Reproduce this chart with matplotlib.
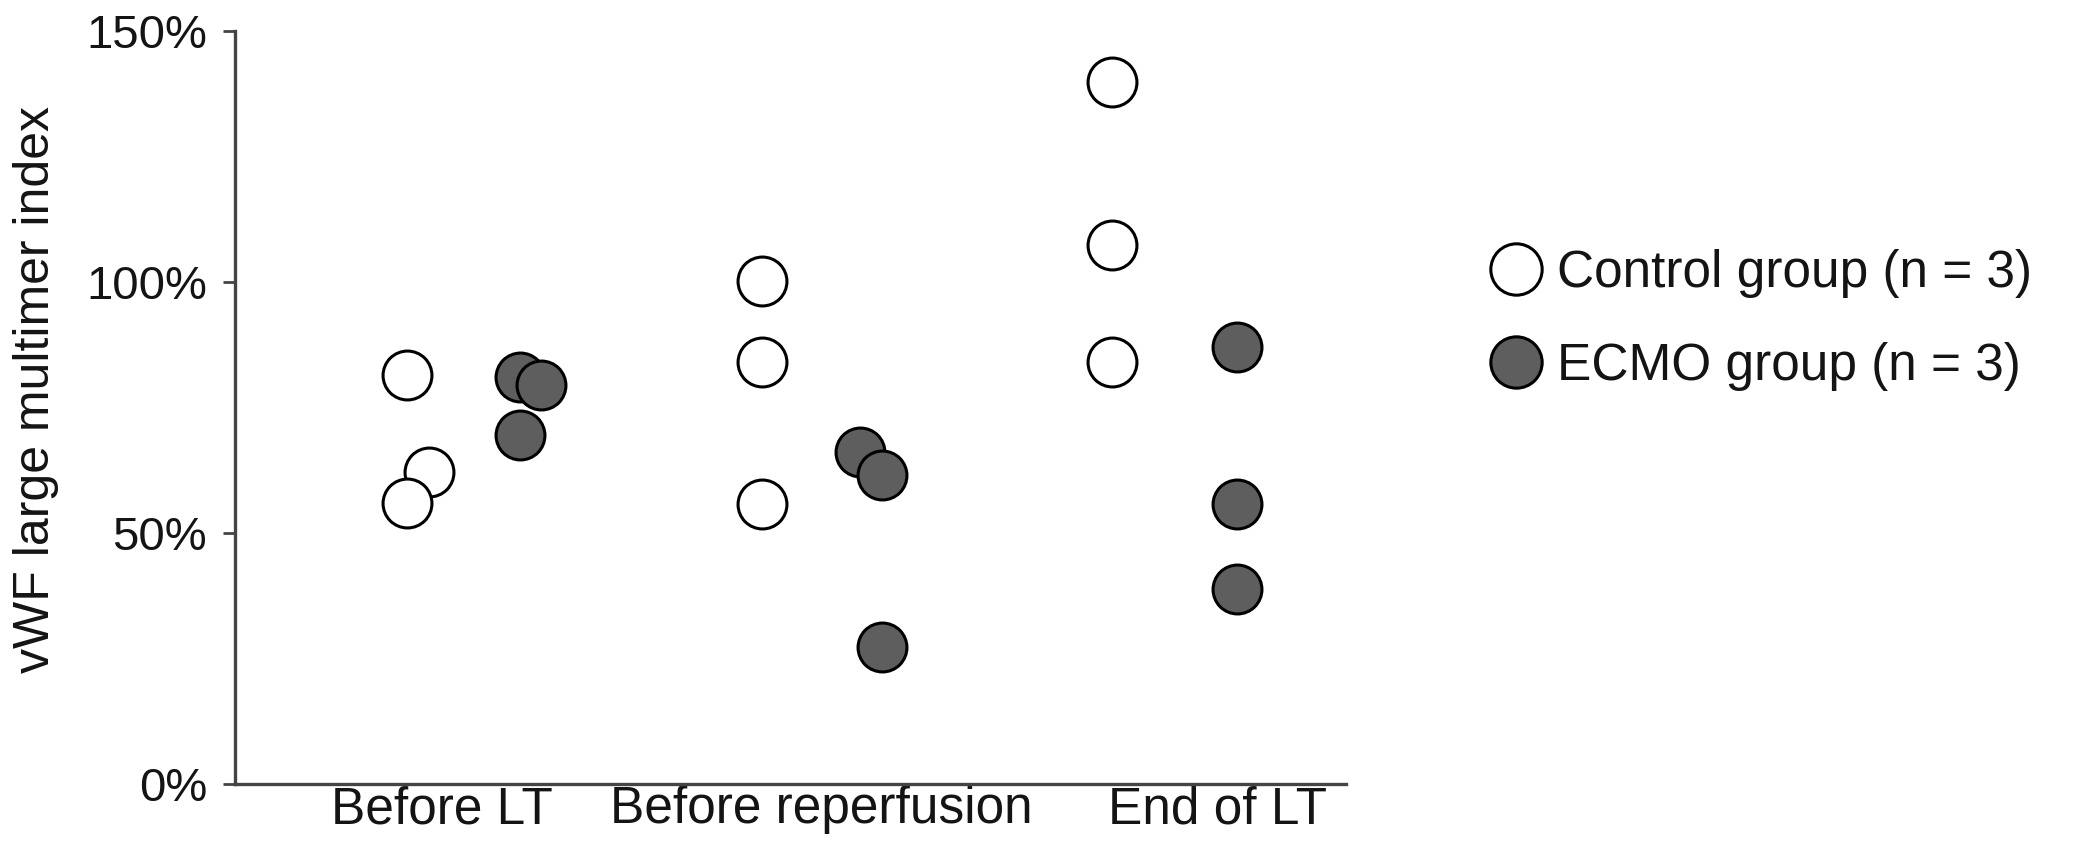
import matplotlib
matplotlib.use("Agg")
import matplotlib.pyplot as plt
from matplotlib.ticker import FuncFormatter

plt.rcParams['font.family'] = ['Liberation Sans', 'DejaVu Sans']

# categories and values (percent)
categories = ["Before LT", "Before reperfusion", "End of LT"]
tick_pos = [0.0, 0.979, 2.0]
control_vals = [[62.2, 81.5, 55.9], [100.3, 84.1, 55.8], [139.9, 107.4, 84.1]]
control_dx = [[-0.032, -0.089, -0.089], [-0.175, -0.175, -0.175], [-0.273, -0.273, -0.273]]
ecmo_vals = [[69.5, 81.0, 79.4], [66.2, 61.5, 27.3], [87.1, 55.8, 38.8]]
ecmo_dx = [[0.202, 0.202, 0.256], [0.078, 0.134, 0.134], [0.049, 0.049, 0.049]]
yticks = [0, 50, 100, 150]

text_col = "#141414"
axis_col = "#444444"
ecmo_col = "#5e5e5e"

fig = plt.figure(figsize=(20.77, 8.44), dpi=100)
ax = fig.add_axes([0.1131, 0.0711, 0.535, 0.892])

mk = dict(marker="o", markersize=35.2, markeredgecolor="black",
          markeredgewidth=2.2, linestyle="none", clip_on=False)

for i in range(len(categories)):
    for d, v in zip(control_dx[i], control_vals[i]):
        ax.plot([i + d], [v], markerfacecolor="white", **mk)
for i in range(len(categories)):
    for d, v in zip(ecmo_dx[i], ecmo_vals[i]):
        ax.plot([i + d], [v], markerfacecolor=ecmo_col, **mk)

# legend handles
ax.plot([], [], markerfacecolor="white", label="Control group (n = 3)", **mk)
ax.plot([], [], markerfacecolor=ecmo_col, label="ECMO group (n = 3)", **mk)

ax.set_xlim(-0.532, 2.330)
ax.set_ylim(0, 150)
ax.set_xticks(tick_pos)
ax.set_xticklabels(categories)
ax.set_yticks(yticks)
ax.yaxis.set_major_formatter(FuncFormatter(lambda v, p: f"{v:.0f}%"))

for s in ["top", "right"]:
    ax.spines[s].set_visible(False)
for s in ["left", "bottom"]:
    ax.spines[s].set_color(axis_col)
    ax.spines[s].set_linewidth(2.4)

ax.tick_params(axis="y", length=8.6, width=2.0, color=axis_col, pad=11.5,
               labelsize=34, labelcolor=text_col)
ax.tick_params(axis="x", length=0, pad=1, labelsize=37, labelcolor=text_col)

ax.set_ylabel("vWF large multimer index", fontsize=36, color=text_col)
ax.yaxis.set_label_coords(-0.158, 0.5246)

leg = ax.legend(loc="center left", bbox_to_anchor=(0.7175, 0.6209),
                bbox_transform=fig.transFigure, frameon=False,
                fontsize=37, handlelength=1.0, handletextpad=0.3,
                labelspacing=0.86, borderpad=0, borderaxespad=0,
                markerscale=1.05, labelcolor=text_col)

fig.savefig("out.png", dpi=100)
